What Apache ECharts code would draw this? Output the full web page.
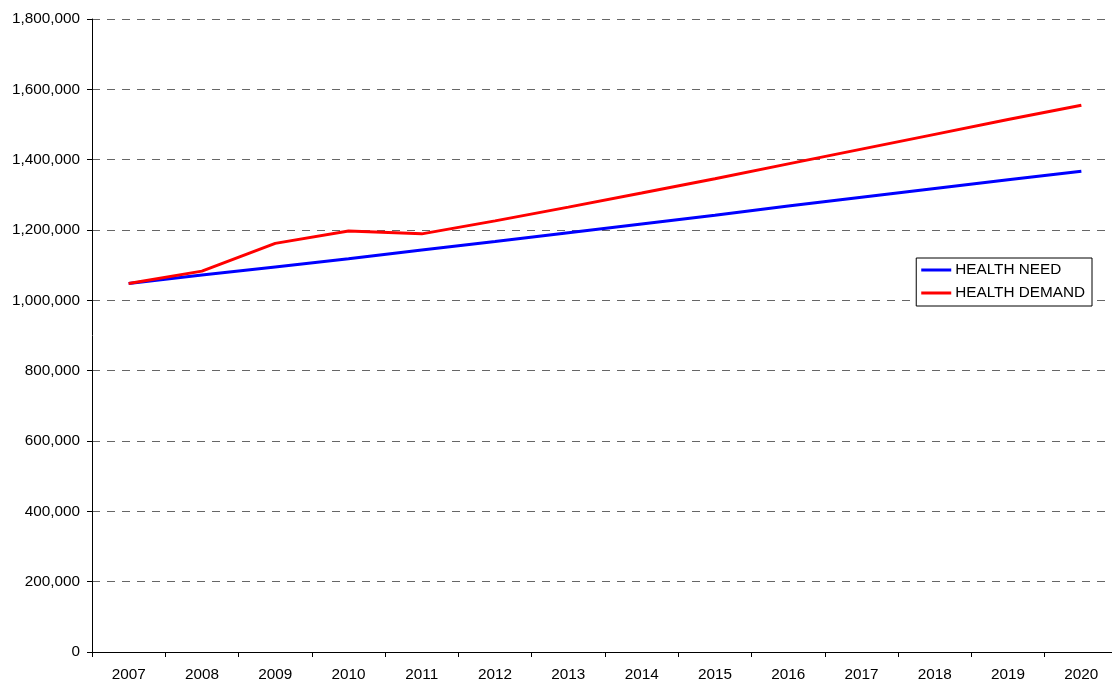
<!DOCTYPE html>
<html><head><meta charset="utf-8">
<script src="https://cdn.jsdelivr.net/npm/echarts@6/dist/echarts.min.js"></script>
<style>html,body{margin:0;padding:0;background:#fff}#c{width:1112px;height:682px}</style>
</head><body><div id="c"></div>
<script>
const years = ['2007','2008','2009','2010','2011','2012','2013','2014','2015','2016','2017','2018','2019','2020'];
const healthNeed = [1048000,1072000,1095000,1118000,1143000,1167000,1192000,1217000,1242000,1268000,1293000,1318000,1343000,1367000];
const healthDemand = [1048000,1083000,1162000,1197000,1189000,1226000,1265000,1305000,1346000,1388000,1430000,1472000,1514000,1555000];
const seriesNames = ['HEALTH NEED','HEALTH DEMAND'];

const chart = echarts.init(document.getElementById('c'));
const font = 'Liberation Sans, Arial, sans-serif';
chart.setOption({
  animation:false,
  backgroundColor:'#fff',
  textStyle:{fontFamily:font},
  grid:{left:92,top:19,width:1026,height:633,containLabel:false,outerBoundsMode:'none'},
  legend:{
    right:20, top:258, orient:'vertical',
    borderColor:'#000', borderWidth:1, borderRadius:0, backgroundColor:'#fff',
    padding:[3,7,4,5], itemGap:5, itemWidth:30, itemHeight:3,
    icon:'rect',
    textStyle:{fontFamily:font,fontSize:15.3,lineHeight:18,color:'#000',padding:[0,0,0,-1]},
    data:seriesNames
  },
  xAxis:{
    type:'category', data:years, boundaryGap:true,
    axisLine:{lineStyle:{color:'#000',width:1}},
    axisTick:{show:true,length:5,lineStyle:{color:'#000'}},
    axisLabel:{color:'#000',fontSize:15.3,fontFamily:font,margin:15}
  },
  yAxis:{
    type:'value', min:0, max:1800000, interval:200000,
    axisLine:{show:true,lineStyle:{color:'#000',width:1}},
    axisTick:{show:true,length:5,lineStyle:{color:'#000'}},
    axisLabel:{color:'#000',fontSize:15.3,fontFamily:font,margin:12,
      formatter:v=>v.toLocaleString('en-US')},
    splitLine:{show:true,lineStyle:{color:'#666',type:[8,7],width:1.2}}
  },
  series:[
    {name:seriesNames[0],type:'line',data:healthNeed,showSymbol:false,symbol:'none',
     lineStyle:{color:'#0000ff',width:3},itemStyle:{color:'#0000ff'}},
    {name:seriesNames[1],type:'line',data:healthDemand,showSymbol:false,symbol:'none',
     lineStyle:{color:'#ff0000',width:3},itemStyle:{color:'#ff0000'}}
  ]
});
</script></body></html>
